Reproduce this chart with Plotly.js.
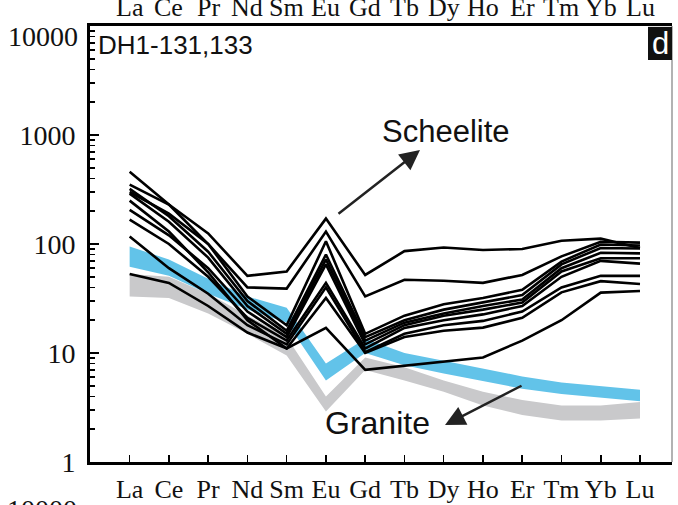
<!DOCTYPE html>
<html>
<head>
<meta charset="utf-8">
<script src="https://cdn.plot.ly/plotly-3.0.1.min.js"></script>
<style>
html,body{margin:0;padding:0;background:#fff;}
#chart{width:678px;height:505px;}
</style>
</head>
<body>
<div id="chart"></div>
<script>
// REE categories
const cats = ["La","Ce","Pr","Nd","Sm","Eu","Gd","Tb","Dy","Ho","Er","Tm","Yb","Lu"];

// Granite envelopes (chondrite-normalised), upper and lower edges
const grayUpper = [53, 50, 35, 22, 14, 4.0, 9.1, 7.4, 5.6, 4.4, 3.7, 3.3, 3.3, 3.55];
const grayLower = [33, 32, 23, 15, 9.5, 2.9, 7.0, 5.6, 4.4, 3.3, 2.7, 2.4, 2.4, 2.5];
const blueUpper = [95, 72, 48, 33, 26, 8.0, 13.5, 10, 8.5, 7.2, 6.1, 5.35, 5.0, 4.6];
const blueLower = [62, 51, 35, 25, 19, 5.6, 10, 7.7, 6.5, 5.5, 4.7, 4.2, 3.9, 3.6];

// Scheelite samples DH1-131,133
const s1  = [350, 230, 125, 51, 56, 171, 52, 86, 93, 88, 90, 107, 112, 92];
const s2  = [300, 190, 100, 40, 39, 130, 33, 47, 46, 44, 52, 77, 105, 103];
const s3  = [459, 230, 100, 33, 18, 106, 15, 22, 28, 32, 38, 69, 99, 97];
const s4  = [320, 180, 85, 30, 16, 80, 14, 20, 25, 29, 34, 65, 92, 91];
const s5  = [290, 160, 75, 27, 15, 72, 13, 19, 23, 27, 31, 60, 83, 82];
const s6  = [206, 120, 60, 24, 14, 65, 12, 18, 22, 25, 29, 56, 74, 74];
const s7  = [167, 100, 50, 21, 13, 44, 11, 17, 20, 22.6, 27, 50, 70, 66];
const s8  = [117, 60, 35, 18, 12, 40, 10.2, 15, 18, 19.7, 24, 40, 51, 51];
const s9  = [53, 44, 27, 15.4, 11, 32, 10, 14, 16, 17.1, 21, 36, 45.6, 43];
const s10 = [250, 130, 55, 20, 11, 17, 7, 7.6, 8.3, 9.1, 13, 20, 35.8, 37];
const samples = [s1, s2, s3, s4, s5, s6, s7, s8, s9, s10];

// Axis ticks
const yTickVals = [1, 10, 100, 1000, 10000];
const yTickText = ["1", "10", "100", "1000", "10000"];

const traces = [];
traces.push({x: cats, y: grayLower, type: 'scatter', mode: 'lines',
  line: {width: 0, color: '#c9c9cb'}, hoverinfo: 'skip', showlegend: false});
traces.push({x: cats, y: grayUpper, type: 'scatter', mode: 'lines', fill: 'tonexty',
  fillcolor: '#c9c9cb', line: {width: 0, color: '#c9c9cb'}, hoverinfo: 'skip', showlegend: false});
traces.push({x: cats, y: blueLower, type: 'scatter', mode: 'lines',
  line: {width: 0, color: '#62c3e9'}, hoverinfo: 'skip', showlegend: false});
traces.push({x: cats, y: blueUpper, type: 'scatter', mode: 'lines', fill: 'tonexty',
  fillcolor: '#62c3e9', line: {width: 0, color: '#62c3e9'}, hoverinfo: 'skip', showlegend: false});
samples.forEach(s => traces.push({x: cats, y: s, type: 'scatter', mode: 'lines',
  line: {color: '#000', width: 2.6}, showlegend: false}));

const serif = 'Liberation Serif, Times New Roman, serif';
const sans = 'Liberation Sans, Arial, sans-serif';

// top "10000" label sits a little below its tick in the reference: draw it as annotation
const yAxisText = yTickText.map((t, i) => i === yTickText.length - 1 ? '' : t);

// element labels of the panel above, partly cut by the top edge
const topLabels = cats.map(c => ({
  xref: 'x', yref: 'paper', x: c, y: 1.0046, xanchor: 'center', yanchor: 'bottom',
  text: c, showarrow: false, font: {family: serif, size: 26, color: '#111'}
}));

const layout = {
  width: 678, height: 505,
  margin: {l: 90, r: 6, t: 26, b: 43, pad: 0},
  paper_bgcolor: '#fff', plot_bgcolor: '#fff',
  showlegend: false,
  xaxis: {
    type: 'category', range: [-1.01, 13.815],
    showgrid: false, zeroline: false,
    showline: true, linecolor: '#000', linewidth: 3, mirror: true,
    ticks: 'inside', ticklen: 7, tickwidth: 1.5, tickcolor: '#000',
    tickfont: {family: serif, size: 26, color: '#111'},
    ticklabelstandoff: 2
  },
  yaxis: {
    type: 'log', range: [0, 4],
    showgrid: false, zeroline: false,
    showline: true, linecolor: '#000', linewidth: 3,
    tickvals: yTickVals, ticktext: yAxisText,
    ticks: 'inside', ticklen: 9, tickwidth: 2, tickcolor: '#000',
    minor: {ticks: 'inside', ticklen: 5, tickwidth: 1.5, tickcolor: '#000', dtick: 'D1', showgrid: false},
    tickfont: {family: serif, size: 28, color: '#111'},
    ticklabelstandoff: 6
  },
  shapes: [
    {type: 'line', xref: 'paper', yref: 'paper', x0: 1, x1: 1, y0: 0, y1: 1,
     line: {color: '#999', width: 1.5}},
    {type: 'rect', xref: 'paper', yref: 'paper', x0: 0.9588, x1: 1, y0: 0.922, y1: 0.998,
     fillcolor: '#111', line: {width: 0}}
  ],
  annotations: topLabels.concat([
    {xref: 'paper', yref: 'paper', x: -0.0172, y: 1, xanchor: 'right', yanchor: 'middle', yshift: -10,
     text: yTickText[4], showarrow: false, font: {family: serif, size: 28, color: '#111'}},
    {xref: 'paper', yref: 'paper', x: 0.0103, y: 0.956, xanchor: 'left', yanchor: 'middle',
     text: 'DH1-131,133', showarrow: false, font: {family: sans, size: 26, color: '#111'}},
    {xref: 'paper', yref: 'paper', x: 0.9794, y: 0.96, xanchor: 'center', yanchor: 'middle',
     text: 'd', showarrow: false, font: {family: sans, size: 31, color: '#fff'}},
    {xref: 'paper', yref: 'paper', x: 0.6117, y: 0.759, xanchor: 'center', yanchor: 'middle',
     text: 'Scheelite', showarrow: false, font: {family: sans, size: 31, color: '#111'}},
    {xref: 'paper', yref: 'paper', x: 0.4948, y: 0.0894, xanchor: 'center', yanchor: 'middle',
     text: 'Granite', showarrow: false, font: {family: sans, size: 32, color: '#111'}},
    {xref: 'paper', yref: 'paper', x: 0.567, y: 0.7156, text: '', showarrow: true,
     ax: -83, ay: 65, arrowhead: 2, arrowsize: 1.6, arrowwidth: 2.5, arrowcolor: '#222'},
    {xref: 'paper', yref: 'paper', x: 0.61, y: 0.0849, text: '', showarrow: true,
     ax: 78, ay: -40, arrowhead: 2, arrowsize: 1.6, arrowwidth: 2.5, arrowcolor: '#222'},
    {xref: 'paper', yref: 'paper', x: -0.0825, y: -0.068, xanchor: 'center', yanchor: 'top',
     text: yTickText[4], showarrow: false, font: {family: serif, size: 28, color: '#111'}}
  ])
};

Plotly.newPlot('chart', traces, layout, {displayModeBar: false, staticPlot: true});
</script>
</body>
</html>
